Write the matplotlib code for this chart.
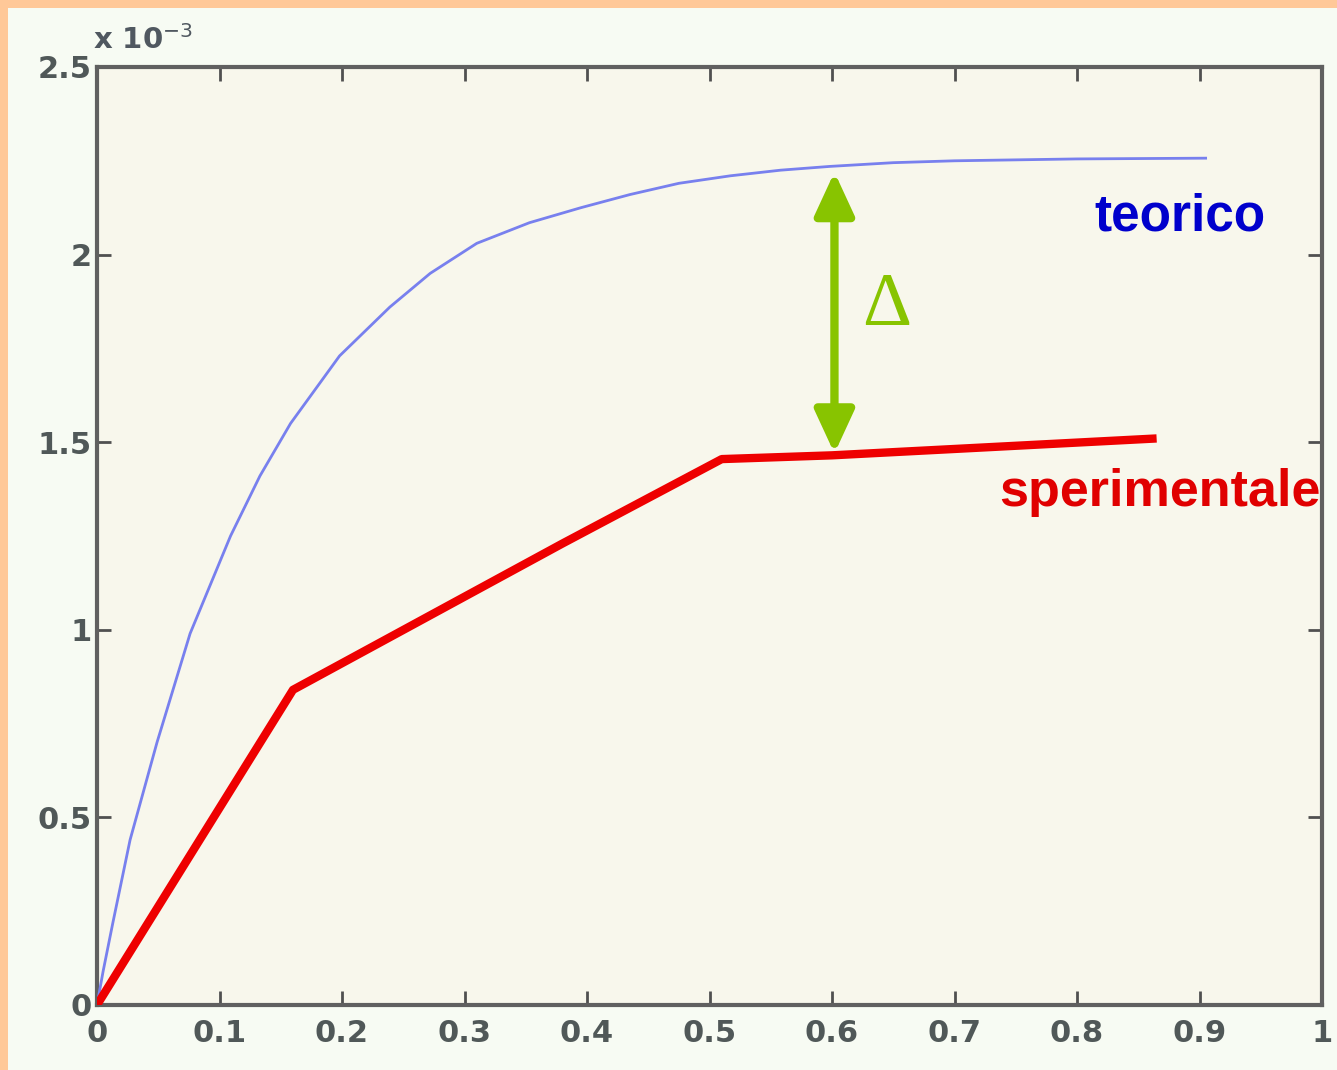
import numpy as np
import matplotlib.pyplot as plt
from matplotlib.patches import Rectangle

# teorico (blue) curve (units of 1e-3)
x_teo = [0.0, 0.005, 0.013, 0.027, 0.049, 0.076, 0.109, 0.133, 0.158, 0.198, 0.239, 0.272,
         0.31, 0.353, 0.395, 0.435, 0.475, 0.517, 0.558, 0.598, 0.65, 0.7, 0.8, 0.905]
y_teo = [0.0, 0.09, 0.22, 0.44, 0.70, 0.99, 1.25, 1.41, 1.55, 1.73, 1.86, 1.95,
         2.03, 2.085, 2.125, 2.16, 2.19, 2.21, 2.225, 2.235, 2.245, 2.25, 2.255, 2.257]

# sperimentale (red) polyline
x_spe = [0.0, 0.16, 0.38, 0.51, 0.60, 0.865]
y_spe = [0.0, 0.84, 1.23, 1.455, 1.465, 1.51]

# delta arrow
x_delta = 0.602
y_delta_low = 1.47
y_delta_high = 2.22

xticks = [0, 0.1, 0.2, 0.3, 0.4, 0.5, 0.6, 0.7, 0.8, 0.9, 1]
xtick_labels = ["0", "0.1", "0.2", "0.3", "0.4", "0.5", "0.6", "0.7", "0.8", "0.9", "1"]
yticks = [0, 0.5, 1, 1.5, 2, 2.5]
ytick_labels = ["0", "0.5", "1", "1.5", "2", "2.5"]

W, H = 1337, 1070
fig = plt.figure(figsize=(W / 100, H / 100), dpi=100)
fig.patch.set_facecolor("#ffc898")
# light page inside the orange frame (frame only top and left)
fig.patches.append(Rectangle((8 / W, 0), 1, 1 - 8 / H, transform=fig.transFigure,
                             facecolor="#f7fbf3", edgecolor="none", zorder=-5))

ax = fig.add_axes([97 / W, 1 - 1005 / H, (1322 - 97) / W, (1005 - 67) / H])
ax.set_zorder(2)
ax.set_facecolor("#f8f7ec")

ax.plot(x_teo, y_teo, color="#7880ee", lw=2.0, zorder=3)
ax.plot(x_spe, y_spe, color="#ee0000", lw=6, solid_capstyle="butt", zorder=4)

ax.annotate("", xy=(x_delta, y_delta_high), xytext=(x_delta, y_delta_low),
            arrowprops=dict(arrowstyle="<|-|>,head_length=2.6,head_width=1.2",
                            color="#88c400", lw=6, shrinkA=0, shrinkB=0), zorder=5)
ax.text(0.645, 1.863, "\u0394", color="#88c400", fontsize=55, family="Liberation Serif",
        ha="center", va="center")
ax.text(0.884, 2.10, "teorico", color="#0000cc", fontsize=37, fontweight="bold",
        family="Liberation Sans", ha="center", va="center")
ax.text(0.868, 1.365, "sperimentale", color="#e00000", fontsize=37.5, fontweight="bold",
        family="Liberation Sans", ha="center", va="center", clip_on=False, zorder=6)

ax.set_xlim(0, 1)
ax.set_ylim(0, 2.5)
ax.set_xticks(xticks)
ax.set_xticklabels(xtick_labels)
ax.set_yticks(yticks)
ax.set_yticklabels(ytick_labels)
ax.tick_params(direction="in", length=10, width=2, color="#505050",
               top=True, right=True, labelsize=22, labelcolor="#505858")
for lab in ax.get_xticklabels() + ax.get_yticklabels():
    lab.set_fontweight("bold")
ax.tick_params(axis="x", pad=10)
ax.tick_params(axis="y", pad=4)
for sp in ax.spines.values():
    sp.set_color("#606060")
    sp.set_linewidth(3)

fig.text(93 / W, 1 - 40 / H, "x 10$^{-3}$", fontsize=21, fontweight="bold",
         color="#505860", ha="left", va="center")

fig.savefig("out.png", dpi=100, facecolor=fig.get_facecolor())
